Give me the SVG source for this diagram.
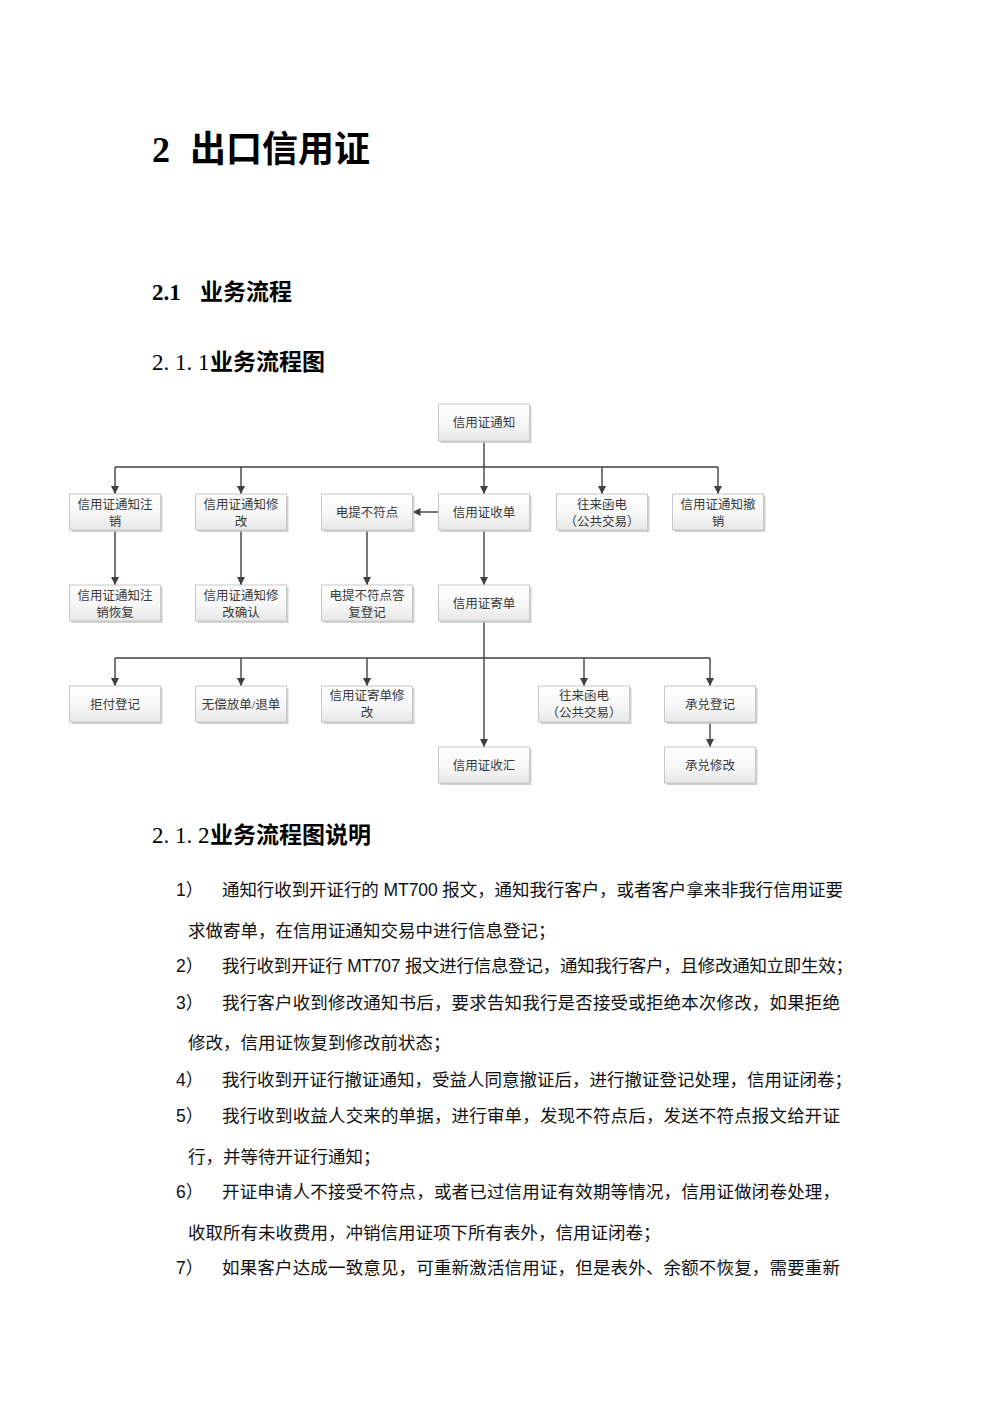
<svg xmlns="http://www.w3.org/2000/svg" width="1000" height="1415" viewBox="0 0 1000 1415">
<defs>
  <linearGradient id="boxfill" x1="0" y1="0" x2="0" y2="1">
    <stop offset="0" stop-color="#ffffff"/>
    <stop offset="0.55" stop-color="#f7f7f7"/>
    <stop offset="1" stop-color="#e6e6e6"/>
  </linearGradient>
  <marker id="arr" viewBox="0 0 10 10" refX="10" refY="5" markerWidth="8" markerHeight="8" markerUnits="userSpaceOnUse" orient="auto">
    <path d="M0,0 L10,5 L0,10 Z" fill="#404040"/>
  </marker>
</defs>
<style>
  .shadow { fill: #c4c4c4; opacity: 0.8; }
  .box { fill: url(#boxfill); stroke: #c8c8c8; stroke-width: 1; }
  .lbl { font-family: "Liberation Serif", "Noto Sans CJK SC", serif; font-size: 12.5px; fill: #3a3a3a; text-anchor: middle; }
  .con { fill: none; stroke: #404040; stroke-width: 1.4; }
  .h1 { font-family: "Liberation Serif", "Noto Sans CJK SC", serif; font-size: 36px; font-weight: bold; fill: #000; }
  .h2 { font-family: "Liberation Serif", "Noto Sans CJK SC", serif; font-size: 23px; font-weight: bold; fill: #000; }
  .body { font-family: "Liberation Sans", "Noto Sans CJK SC", sans-serif; font-size: 17.5px; fill: #111; }
</style>
<rect x="0" y="0" width="1000" height="1415" fill="#ffffff"/>

<g id="headings">
  <text class="h1" y="162"><tspan x="152">2</tspan><tspan x="190">出口信用证</tspan></text>
  <text class="h2" y="300"><tspan x="152">2.1</tspan><tspan x="200">业务流程</tspan></text>
  <text class="h2" y="370"><tspan x="152 163.5 175 186.5 198" font-weight="normal">2.1.1</tspan><tspan x="210">业务流程图</tspan></text>
  <text class="h2" y="843"><tspan x="152 163.5 175 186.5 198" font-weight="normal">2.1.2</tspan><tspan x="210">业务流程图说明</tspan></text>
</g>

<g id="connectors">
  <path class="con" d="M484,441 V494" marker-end="url(#arr)"/>
  <path class="con" d="M115,467 H718"/>
  <path class="con" d="M115,467 V494" marker-end="url(#arr)"/>
  <path class="con" d="M241,467 V494" marker-end="url(#arr)"/>
  <path class="con" d="M602,467 V494" marker-end="url(#arr)"/>
  <path class="con" d="M718,467 V494" marker-end="url(#arr)"/>
  <path class="con" d="M438.5,512 H412.5" marker-end="url(#arr)"/>
  <path class="con" d="M115,530 V585" marker-end="url(#arr)"/>
  <path class="con" d="M241,530 V585" marker-end="url(#arr)"/>
  <path class="con" d="M367,530 V585" marker-end="url(#arr)"/>
  <path class="con" d="M484,530 V585" marker-end="url(#arr)"/>
  <path class="con" d="M484,621 V747" marker-end="url(#arr)"/>
  <path class="con" d="M115,658 H710"/>
  <path class="con" d="M115,658 V686" marker-end="url(#arr)"/>
  <path class="con" d="M241,658 V686" marker-end="url(#arr)"/>
  <path class="con" d="M367,658 V686" marker-end="url(#arr)"/>
  <path class="con" d="M584,658 V686" marker-end="url(#arr)"/>
  <path class="con" d="M710,658 V686" marker-end="url(#arr)"/>
  <path class="con" d="M710,722 V747" marker-end="url(#arr)"/>
</g>

<g id="n_xyztz">
  <rect class="shadow" x="440.5" y="406" width="91" height="37"/>
  <rect class="box" x="438.5" y="404" width="91" height="37"/>
  <text class="lbl" x="484" y="427">信用证通知</text>
</g>

<g id="n_tzzx">
  <rect class="shadow" x="71.5" y="496" width="91" height="36"/>
  <rect class="box" x="69.5" y="494" width="91" height="36"/>
  <text class="lbl" x="115" y="508.5">信用证通知注</text>
  <text class="lbl" x="115" y="525.5">销</text>
</g>
<g id="n_tzxg">
  <rect class="shadow" x="197.5" y="496" width="91" height="36"/>
  <rect class="box" x="195.5" y="494" width="91" height="36"/>
  <text class="lbl" x="241" y="508.5">信用证通知修</text>
  <text class="lbl" x="241" y="525.5">改</text>
</g>
<g id="n_dtbfd">
  <rect class="shadow" x="323.5" y="496" width="91" height="36"/>
  <rect class="box" x="321.5" y="494" width="91" height="36"/>
  <text class="lbl" x="367" y="516.5">电提不符点</text>
</g>
<g id="n_sd">
  <rect class="shadow" x="440.5" y="496" width="91" height="36"/>
  <rect class="box" x="438.5" y="494" width="91" height="36"/>
  <text class="lbl" x="484" y="516.5">信用证收单</text>
</g>
<g id="n_wlhd1">
  <rect class="shadow" x="558.5" y="496" width="91" height="36"/>
  <rect class="box" x="556.5" y="494" width="91" height="36"/>
  <text class="lbl" x="602" y="508.5">往来函电</text>
  <text class="lbl" x="602" y="525.5">（公共交易）</text>
</g>
<g id="n_tzcx">
  <rect class="shadow" x="674.5" y="496" width="91" height="36"/>
  <rect class="box" x="672.5" y="494" width="91" height="36"/>
  <text class="lbl" x="718" y="508.5">信用证通知撤</text>
  <text class="lbl" x="718" y="525.5">销</text>
</g>

<g id="n_tzzxhf">
  <rect class="shadow" x="71.5" y="587" width="91" height="36"/>
  <rect class="box" x="69.5" y="585" width="91" height="36"/>
  <text class="lbl" x="115" y="599.5">信用证通知注</text>
  <text class="lbl" x="115" y="616.5">销恢复</text>
</g>
<g id="n_tzxgqr">
  <rect class="shadow" x="197.5" y="587" width="91" height="36"/>
  <rect class="box" x="195.5" y="585" width="91" height="36"/>
  <text class="lbl" x="241" y="599.5">信用证通知修</text>
  <text class="lbl" x="241" y="616.5">改确认</text>
</g>
<g id="n_dtdf">
  <rect class="shadow" x="323.5" y="587" width="91" height="36"/>
  <rect class="box" x="321.5" y="585" width="91" height="36"/>
  <text class="lbl" x="367" y="599.5">电提不符点答</text>
  <text class="lbl" x="367" y="616.5">复登记</text>
</g>
<g id="n_jd">
  <rect class="shadow" x="440.5" y="587" width="91" height="36"/>
  <rect class="box" x="438.5" y="585" width="91" height="36"/>
  <text class="lbl" x="484" y="607.5">信用证寄单</text>
</g>

<g id="n_jfdj">
  <rect class="shadow" x="71.5" y="688" width="91" height="36"/>
  <rect class="box" x="69.5" y="686" width="91" height="36"/>
  <text class="lbl" x="115" y="708.5">拒付登记</text>
</g>
<g id="n_wcfd">
  <rect class="shadow" x="197.5" y="688" width="91" height="36"/>
  <rect class="box" x="195.5" y="686" width="91" height="36"/>
  <text class="lbl" x="241" y="708.5">无偿放单/退单</text>
</g>
<g id="n_jdxg">
  <rect class="shadow" x="323.5" y="688" width="91" height="36"/>
  <rect class="box" x="321.5" y="686" width="91" height="36"/>
  <text class="lbl" x="367" y="699.5">信用证寄单修</text>
  <text class="lbl" x="367" y="716.5">改</text>
</g>
<g id="n_wlhd2">
  <rect class="shadow" x="540.5" y="688" width="91" height="36"/>
  <rect class="box" x="538.5" y="686" width="91" height="36"/>
  <text class="lbl" x="584" y="699.5">往来函电</text>
  <text class="lbl" x="584" y="716.5">（公共交易）</text>
</g>
<g id="n_cddj">
  <rect class="shadow" x="666.5" y="688" width="91" height="36"/>
  <rect class="box" x="664.5" y="686" width="91" height="36"/>
  <text class="lbl" x="710" y="708.5">承兑登记</text>
</g>
<g id="n_sh">
  <rect class="shadow" x="440.5" y="749" width="91" height="36"/>
  <rect class="box" x="438.5" y="747" width="91" height="36"/>
  <text class="lbl" x="484" y="769.5">信用证收汇</text>
</g>
<g id="n_cdxg">
  <rect class="shadow" x="666.5" y="749" width="91" height="36"/>
  <rect class="box" x="664.5" y="747" width="91" height="36"/>
  <text class="lbl" x="710" y="769.5">承兑修改</text>
</g>

<g id="description">
  <text class="body" x="176" y="896">1）</text>
  <text class="body" x="222" y="896" textLength="621" lengthAdjust="spacing">通知行收到开证行的 MT700 报文，通知我行客户，或者客户拿来非我行信用证要</text>
  <text class="body" x="188" y="937">求做寄单，在信用证通知交易中进行信息登记；</text>
  <text class="body" x="176" y="972">2）</text>
  <text class="body" x="222" y="972" textLength="631" lengthAdjust="spacing">我行收到开证行 MT707 报文进行信息登记，通知我行客户，且修改通知立即生效；</text>
  <text class="body" x="176" y="1009">3）</text>
  <text class="body" x="222" y="1009" textLength="618" lengthAdjust="spacing">我行客户收到修改通知书后，要求告知我行是否接受或拒绝本次修改，如果拒绝</text>
  <text class="body" x="188" y="1049">修改，信用证恢复到修改前状态；</text>
  <text class="body" x="176" y="1086">4）</text>
  <text class="body" x="222" y="1086" textLength="630" lengthAdjust="spacing">我行收到开证行撤证通知，受益人同意撤证后，进行撤证登记处理，信用证闭卷；</text>
  <text class="body" x="176" y="1122">5）</text>
  <text class="body" x="222" y="1122" textLength="618" lengthAdjust="spacing">我行收到收益人交来的单据，进行审单，发现不符点后，发送不符点报文给开证</text>
  <text class="body" x="188" y="1163">行，并等待开证行通知；</text>
  <text class="body" x="176" y="1198">6）</text>
  <text class="body" x="222" y="1198" textLength="618" lengthAdjust="spacing">开证申请人不接受不符点，或者已过信用证有效期等情况，信用证做闭卷处理，</text>
  <text class="body" x="188" y="1239">收取所有未收费用，冲销信用证项下所有表外，信用证闭卷；</text>
  <text class="body" x="176" y="1274">7）</text>
  <text class="body" x="222" y="1274" textLength="618" lengthAdjust="spacing">如果客户达成一致意见，可重新激活信用证，但是表外、余额不恢复，需要重新</text>
</g>
</svg>
